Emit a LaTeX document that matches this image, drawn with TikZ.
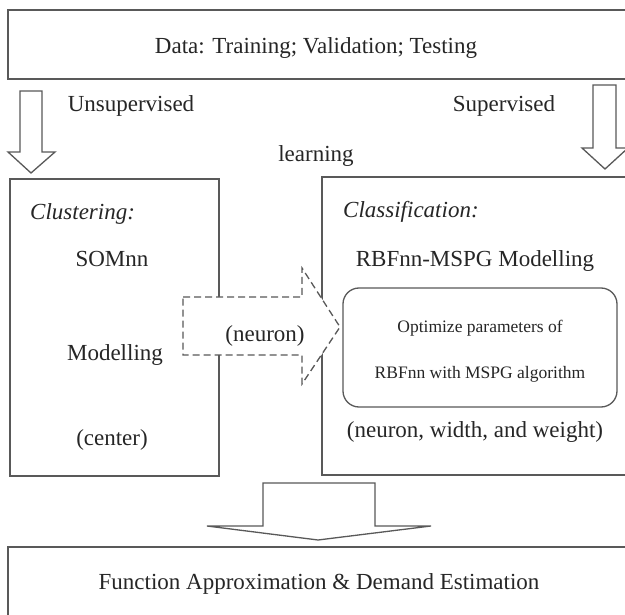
\documentclass[tikz,border=0pt]{standalone}
\usepackage{fontspec}
\setmainfont{Liberation Serif}
\begin{document}
\begin{tikzpicture}[x=1pt,y=-1pt,
  box/.style={draw=black!65, line width=1.3pt, fill=white, inner sep=0pt},
  lbl/.style={inner sep=0pt, anchor=base, text=black!85, font=\fontsize{23}{27}\selectfont},
  lblw/.style={lbl, anchor=base west, font=\fontsize{23}{27}\selectfont\itshape},
  small/.style={inner sep=0pt, anchor=base, text=black!85, font=\fontsize{17.5}{21}\selectfont},
  blockarrow/.style={draw=black!65, line width=1.3pt, fill=white, line join=miter},
]
\clip (0,0) rectangle (625,615);
\fill[white] (0,0) rectangle (625,615);

% top box
\node[box, minimum width=632pt, minimum height=69pt] (data) at (324,44.5) {};
\node[lbl] (datatxt) at (316,54) {Data: Training; Validation; Testing};

% learning labels
\node[lbl] (unsup) at (131,112) {Unsupervised};
\node[lbl] (sup) at (504,112) {Supervised};
\node[lbl] (learn) at (316,162) {learning};

% down arrows
\draw[blockarrow] (20,91) -- (42,91) -- (42,152) -- (55,152) -- (31,173) -- (8,152) -- (20,152) -- cycle;
\draw[blockarrow] (593,85) -- (616,85) -- (616,148) -- (628,148) -- (605,169) -- (582,148) -- (593,148) -- cycle;

% left box
\node[box, minimum width=209pt, minimum height=297pt] (som) at (114.5,327.5) {};
\node[lblw] (clu) at (30,220) {Clustering:};
\node[lbl] (somnn) at (112,267) {SOMnn};
\node[lbl] (model) at (115,360) {Modelling};
\node[lbl] (center) at (112,446) {(center)};

% right box
\node[box, minimum width=318pt, minimum height=298pt] (rbf) at (481,326) {};
\node[lblw] (cla) at (343,218) {Classification:};
\node[lbl] (rbftitle) at (475,267) {RBFnn-MSPG Modelling};
\node[box, rounded corners=16pt, minimum width=274pt, minimum height=119pt] (opt) at (480,347.5) {};
\node[small] (opt1) at (480,333) {Optimize parameters of};
\node[small] (opt2) at (480,378) {RBFnn with MSPG algorithm};
\node[lbl] (params) at (475,438) {(neuron, width, and weight)};

% dashed arrow
\draw[blockarrow, dash pattern=on 7pt off 4pt] (183,297) -- (302,297) -- (302,268) -- (340,327) -- (302,384) -- (302,355) -- (183,355) -- cycle;
\node[lbl] (neuron) at (265,342) {(neuron)};

% bottom arrow
\draw[blockarrow] (263,483) -- (375,483) -- (375,526) -- (431,526) -- (318,540) -- (207,526) -- (263,526) -- cycle;

% bottom box
\node[box, minimum width=632pt, minimum height=153pt] (out) at (324,623.5) {};
\node[lbl] (outtxt) at (319,589) {Function Approximation \& Demand Estimation};
\end{tikzpicture}
\end{document}
